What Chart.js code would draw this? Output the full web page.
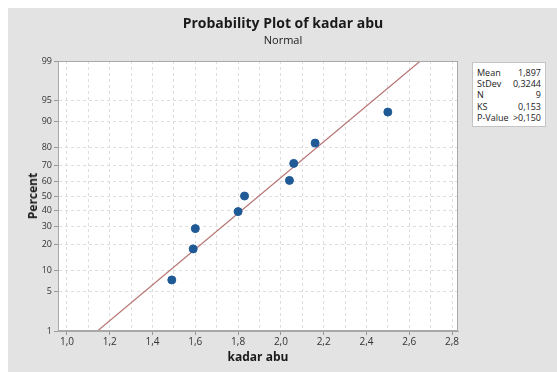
<!DOCTYPE html>
<html><head><meta charset="utf-8">
<script src="https://cdn.jsdelivr.net/npm/chart.js@4"></script>
<style>
html,body{margin:0;padding:0;background:#fff;}
#wrap{position:relative;width:557px;height:372px;overflow:hidden;font-family:"Open Sans","Noto Sans",sans-serif;}
#bg{position:absolute;left:8px;top:8px;right:0;bottom:0;background:#e3e3e3;}
canvas{position:absolute;left:0;top:0;}
.t{position:absolute;white-space:nowrap;color:#1a1a1a;}
#title{left:283px;top:14px;transform:translateX(-50%);font-size:14px;font-weight:bold;line-height:18px;}
#sub{left:283px;top:33px;transform:translateX(-50%);font-size:11px;line-height:13px;}
#ylab{left:33px;top:196px;transform:translate(-50%,-50%) rotate(-90deg);font-size:12px;font-weight:bold;line-height:14px;}
#xlab{left:258px;top:350px;transform:translateX(-50%);font-size:12px;font-weight:bold;line-height:14px;}
#stats{position:absolute;left:472px;top:62px;width:64px;padding:4px 4px 3px 4px;background:#fff;border:1px solid #c4c4c4;font-size:9px;line-height:11.2px;color:#1a1a1a;}
#stats div{display:flex;justify-content:space-between;}
</style></head>
<body>
<div id="wrap">
<div id="bg"></div>
<canvas id="c" width="557" height="372"></canvas>
<div class="t" id="title">Probability Plot of kadar abu</div>
<div class="t" id="sub">Normal</div>
<div class="t" id="ylab">Percent</div>
<div class="t" id="xlab">kadar abu</div>
<div id="stats"></div>
</div>
<script>
// ---- data ----
const kadarAbu = [1.49, 1.59, 1.60, 1.80, 1.83, 2.04, 2.06, 2.16, 2.50];
const percent  = [7.4, 18.1, 28.7, 39.4, 50.0, 60.6, 71.3, 81.9, 92.6];
const statLabels = ["Mean", "StDev", "N", "KS", "P-Value"];
const statValues = ["1,897", "0,3244", "9", "0,153", ">0,150"];
const fitMean = 1.897;
const fitStDev = 0.3244;
const yTickPercents = [1, 5, 10, 20, 30, 40, 50, 60, 70, 80, 90, 95, 99];
const xTickLabels = [1.0, 1.2, 1.4, 1.6, 1.8, 2.0, 2.2, 2.4, 2.6, 2.8];

// stats box
document.getElementById('stats').innerHTML = statLabels.map((l,i)=>
  '<div><span>'+l+'</span><span>'+statValues[i]+'</span></div>').join('');

// inverse standard normal CDF (Acklam)
function invNorm(p){
  const a=[-3.969683028665376e+01,2.209460984245205e+02,-2.759285104469687e+02,1.383577518672690e+02,-3.066479806614716e+01,2.506628277459239e+00];
  const b=[-5.447609879822406e+01,1.615858368580409e+02,-1.556989798598866e+02,6.680131188771972e+01,-1.328068155288572e+01];
  const c=[-7.784894002430293e-03,-3.223964580411365e-01,-2.400758277161838e+00,-2.549732539343734e+00,4.374664141464968e+00,2.938163982698783e+00];
  const d=[7.784695709041462e-03,3.224671290700398e-01,2.445134137142996e+00,3.754408661907416e+00];
  const pl=0.02425, ph=1-pl; let q,r;
  if(p<pl){q=Math.sqrt(-2*Math.log(p));return (((((c[0]*q+c[1])*q+c[2])*q+c[3])*q+c[4])*q+c[5])/((((d[0]*q+d[1])*q+d[2])*q+d[3])*q+1);}
  if(p<=ph){q=p-0.5;r=q*q;return (((((a[0]*r+a[1])*r+a[2])*r+a[3])*r+a[4])*r+a[5])*q/(((((b[0]*r+b[1])*r+b[2])*r+b[3])*r+b[4])*r+1);}
  q=Math.sqrt(-2*Math.log(1-p));return -(((((c[0]*q+c[1])*q+c[2])*q+c[3])*q+c[4])*q+c[5])/((((d[0]*q+d[1])*q+d[2])*q+d[3])*q+1);
}
const zOf = p => invNorm(p/100);
const zMin = zOf(yTickPercents[0]), zMax = zOf(yTickPercents[yTickPercents.length-1]);

const pts = kadarAbu.map((x,i)=>({x:x, y:zOf(percent[i])}));
const fitLine = [{x: fitMean + zMin*fitStDev, y: zMin}, {x: fitMean + zMax*fitStDev, y: zMax}];

const xGridVals = [];
for(let i=10;i<=28;i++) xGridVals.push(i/10);
const isMajor = v => xTickLabels.some(t=>Math.abs(t-v)<1e-6);

const frame = {
  id:'frame',
  beforeDraw(chart){
    const {ctx, chartArea:a} = chart;
    ctx.save(); ctx.fillStyle='#ffffff';
    ctx.fillRect(a.left,a.top,a.right-a.left,a.bottom-a.top); ctx.restore();
  },
  afterDraw(chart){
    const {ctx, chartArea:a} = chart;
    ctx.save(); ctx.strokeStyle='#a8a8a8'; ctx.lineWidth=1;
    ctx.strokeRect(Math.round(a.left)+0.5, Math.round(a.top)+0.5, Math.round(a.right-a.left)-1, Math.round(a.bottom-a.top)-1);
    ctx.restore();
  }
};

const tickFont = {family:'"Open Sans","Noto Sans",sans-serif', size:9};
new Chart(document.getElementById('c'), {
  type:'scatter',
  data:{datasets:[
    {label:'kadar abu', data:pts, backgroundColor:'#1f5a96', borderColor:'#1f5a96', pointRadius:4, pointHoverRadius:4, order:0},
    {label:'fit', data:fitLine, showLine:true, borderColor:'#b87575', borderWidth:1.2, pointRadius:0, fill:false, order:1}
  ]},
  options:{
    responsive:false, animation:false, events:[],
    layout:{padding:{left:0, top:61, right:99, bottom:0}},
    plugins:{legend:{display:false}, tooltip:{enabled:false}, title:{display:false}},
    scales:{
      x:{type:'linear', min:0.958, max:2.828,
        afterFit(s){ s.height = 41; },
        afterBuildTicks(s){ s.ticks = xGridVals.map(v=>({value:v})); },
        ticks:{autoSkip:false, maxRotation:0, padding:1, color:'#333', font:{family:tickFont.family, size:10},
          callback:(v)=> isMajor(v) ? v.toFixed(1).replace('.',',') : ''},
        grid:{color:'#dedede', lineWidth:1, tickLength:4,
          tickColor:(ctx)=> (ctx.tick && isMajor(ctx.tick.value)) ? '#999' : 'rgba(0,0,0,0)'},
        border:{display:true, color:'#a8a8a8', width:1, dash:[3,3]}
      },
      y:{type:'linear', min:zMin, max:zMax,
        afterFit(s){ s.width = 58; },
        afterBuildTicks(s){ s.ticks = yTickPercents.map(p=>({value:zOf(p)})); },
        ticks:{autoSkip:false, padding:2, color:'#333', font:tickFont,
          callback:(v,i)=> String(yTickPercents[i])},
        grid:{color:'#dedede', lineWidth:1, tickLength:4, tickColor:'#999'},
        border:{display:true, color:'#a8a8a8', width:1, dash:[3,3]}
      }
    }
  },
  plugins:[frame]
});
</script>
</body></html>
